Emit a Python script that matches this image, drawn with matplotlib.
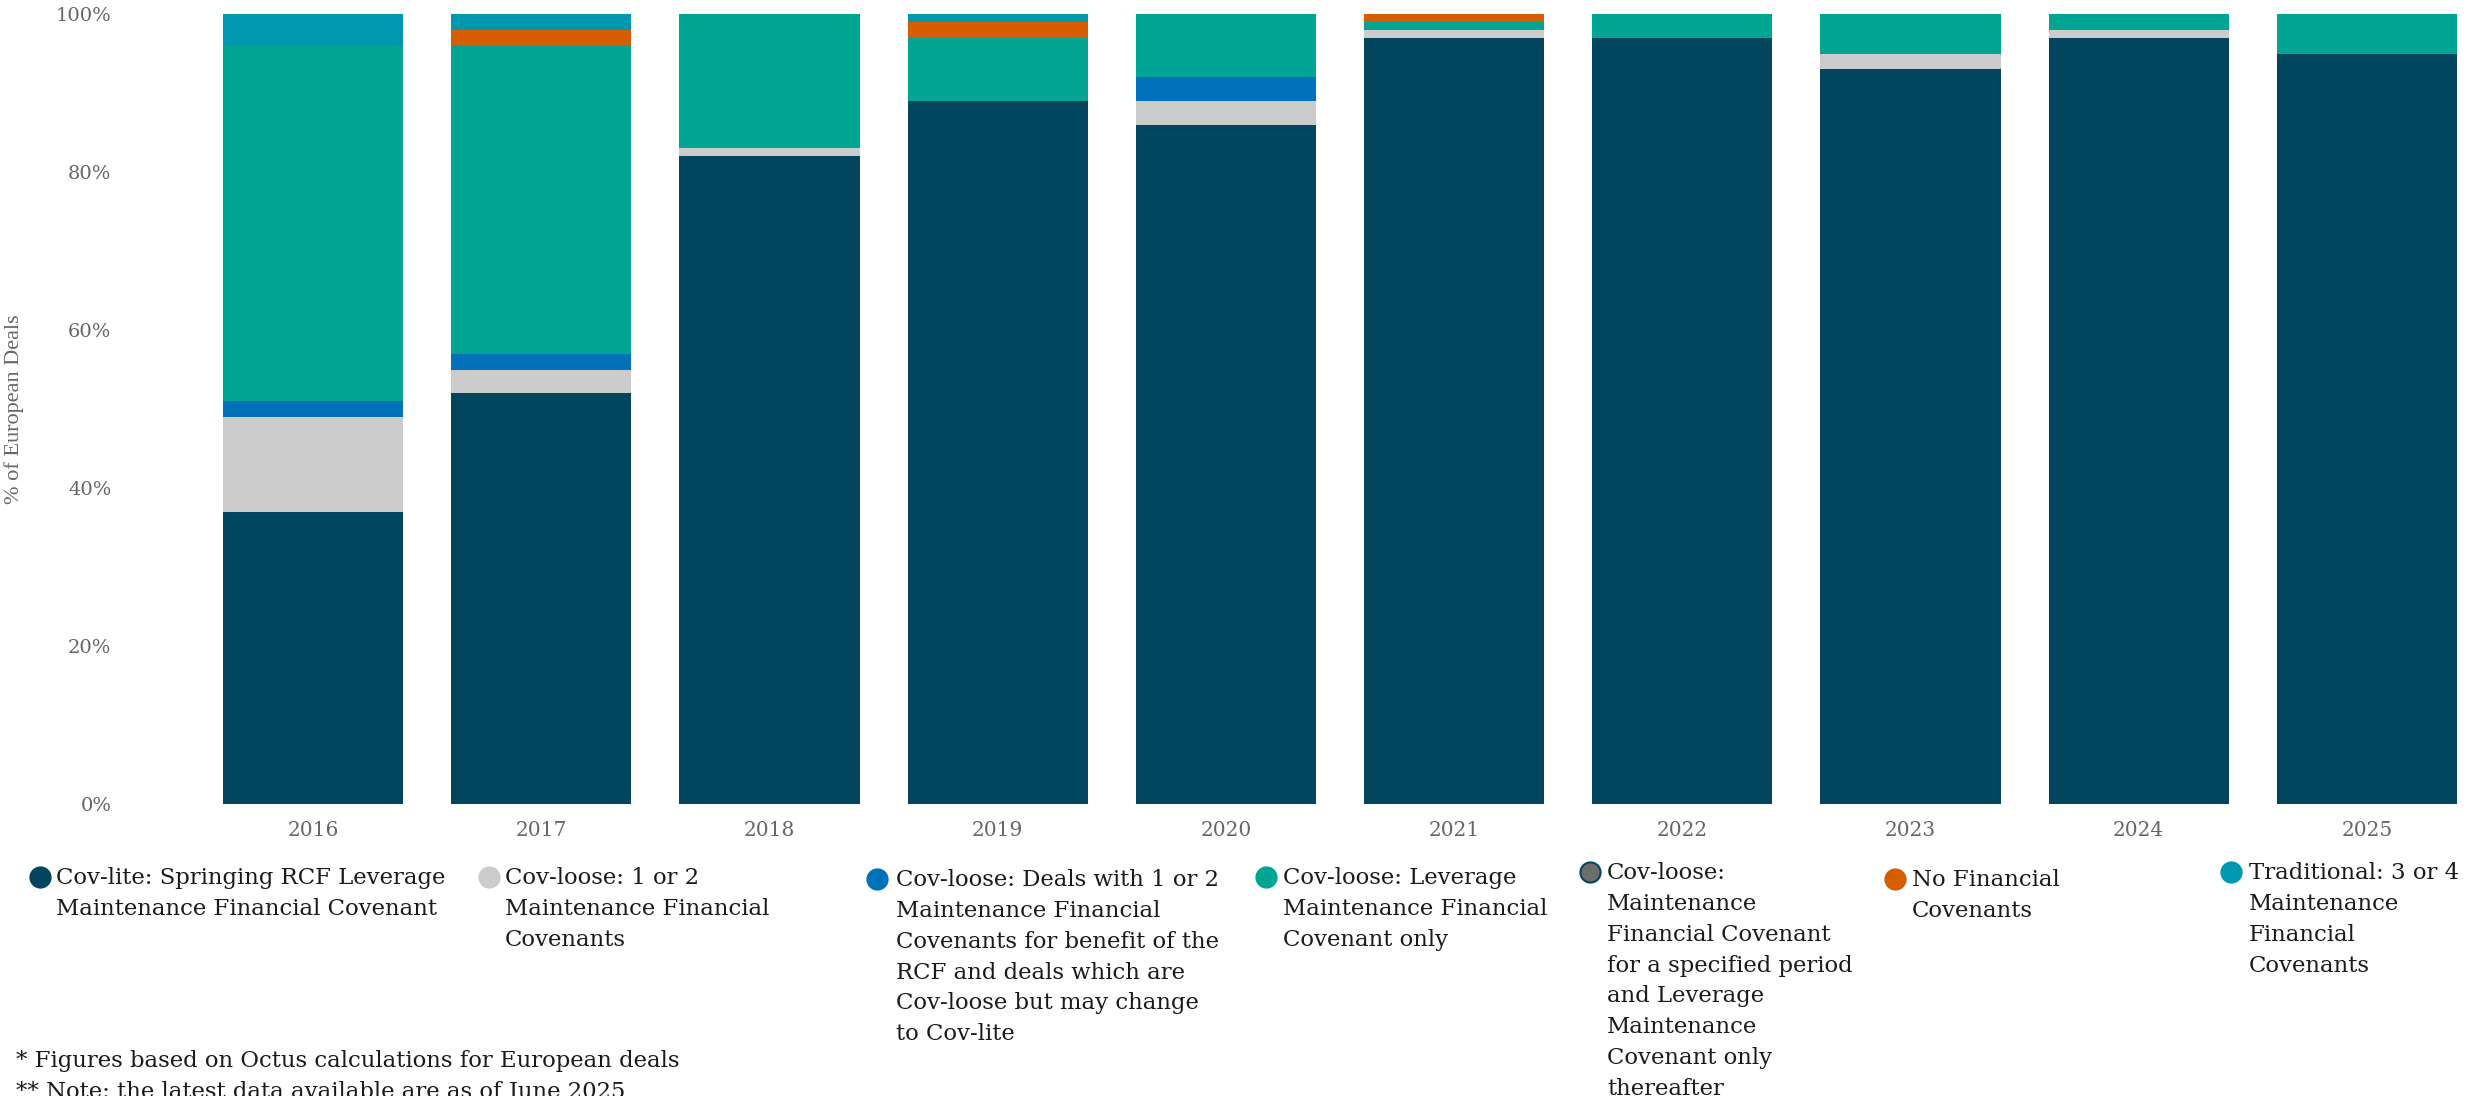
import numpy as np
import matplotlib
matplotlib.use('Agg')
import matplotlib.pyplot as plt
from matplotlib.lines import Line2D

years = ['2016', '2017', '2018', '2019', '2020', '2021', '2022', '2023', '2024', '2025']

covLite = [37, 52, 82, 89, 86, 97, 97, 93, 97, 95]
covLoose12 = [12, 3, 1, 0, 3, 1, 0, 2, 1, 0]
covLooseRcf = [2, 2, 0, 0, 3, 0, 0, 0, 0, 0]
covLooseLeverage = [45, 39, 17, 8, 8, 1, 3, 5, 2, 5]
covLoosePeriod = [0, 0, 0, 0, 0, 0, 0, 0, 0, 0]
noFinancial = [0, 2, 0, 2, 0, 1, 0, 0, 0, 0]
traditional = [4, 2, 0, 1, 0, 0, 0, 0, 0, 0]

seriesLabels = [
    'Cov-lite: Springing RCF Leverage\nMaintenance Financial Covenant',
    'Cov-loose: 1 or 2\nMaintenance Financial\nCovenants',
    'Cov-loose: Deals with 1 or 2\nMaintenance Financial\nCovenants for benefit of the\nRCF and deals which are\nCov-loose but may change\nto Cov-lite',
    'Cov-loose: Leverage\nMaintenance Financial\nCovenant only',
    'Cov-loose:\nMaintenance\nFinancial Covenant\nfor a specified period\nand Leverage\nMaintenance\nCovenant only\nthereafter',
    'No Financial\nCovenants',
    'Traditional: 3 or 4\nMaintenance\nFinancial\nCovenants',
]
seriesData = [covLite, covLoose12, covLooseRcf, covLooseLeverage, covLoosePeriod, noFinancial, traditional]
colors = ['#01455E', '#CCCCCC', '#0072BC', '#00A594', '#6D6D6D', '#D65E00', '#0097B0']

W, H = 2490, 1096
fig = plt.figure(figsize=(W / 100, H / 100), dpi=100)
ax = fig.add_axes([199 / W, 1 - 804 / H, (2481 - 199) / W, (804 - 14) / H])

x = np.arange(len(years))
bottom = np.zeros(len(years))
for vals, col in zip(seriesData, colors):
    vals = np.array(vals, dtype=float)
    ax.bar(x, vals, bottom=bottom, width=0.79, color=col, linewidth=0)
    bottom += vals

ax.set_xlim(-0.5, len(years) - 0.5)
ax.set_ylim(0, 100)
ax.set_yticks([0, 20, 40, 60, 80, 100])
ax.set_yticklabels(['0%', '20%', '40%', '60%', '80%', '100%'])
ax.set_xticks(x)
ax.set_xticklabels(years)
for s in ax.spines.values():
    s.set_visible(False)
ax.tick_params(axis='both', length=0, colors='#666666')
ax.tick_params(axis='y', pad=63)
ax.tick_params(axis='x', pad=12)
for lbl in ax.get_xticklabels():
    lbl.set_fontfamily('DejaVu Serif')
    lbl.set_fontsize(14.5)
    lbl.set_color('#666666')
for lbl in ax.get_yticklabels():
    lbl.set_fontfamily('DejaVu Serif')
    lbl.set_fontsize(14)
    lbl.set_color('#666666')

ax.set_ylabel('% of European Deals', family='Liberation Serif', fontsize=16, color='#666666')
ax.yaxis.set_label_coords(-0.0767, 0.5)

# legend laid out by hand, like the original
markerX = [40, 489, 877, 1266, 1590, 1895, 2231]
textX = [56, 505, 896, 1283, 1607, 1912, 2249]
topY = [877, 877, 879, 877, 872, 879, 872]
for i in range(len(seriesLabels)):
    edge = '#01455E' if i == 4 else colors[i]
    fig.add_artist(Line2D([markerX[i] / W], [1 - topY[i] / H], transform=fig.transFigure,
                          marker='o', markersize=14.5, markerfacecolor=colors[i],
                          markeredgecolor=edge, markeredgewidth=1.5, linestyle='none'))
    fig.text(textX[i] / W, 1 - (topY[i] - 10) / H, seriesLabels[i], ha='left', va='top',
             family='DejaVu Serif', fontsize=16.4, color='#1a1a1a', linespacing=1.52)

fig.text(16 / W, 1 - 1061 / H, '* Figures based on Octus calculations for European deals',
         ha='left', va='center', family='DejaVu Serif', fontsize=16.4, color='#1a1a1a')
fig.text(16 / W, 1 - 1092 / H, '** Note: the latest data available are as of June 2025',
         ha='left', va='center', family='DejaVu Serif', fontsize=16.4, color='#1a1a1a')

fig.savefig('out.png', dpi=100)
